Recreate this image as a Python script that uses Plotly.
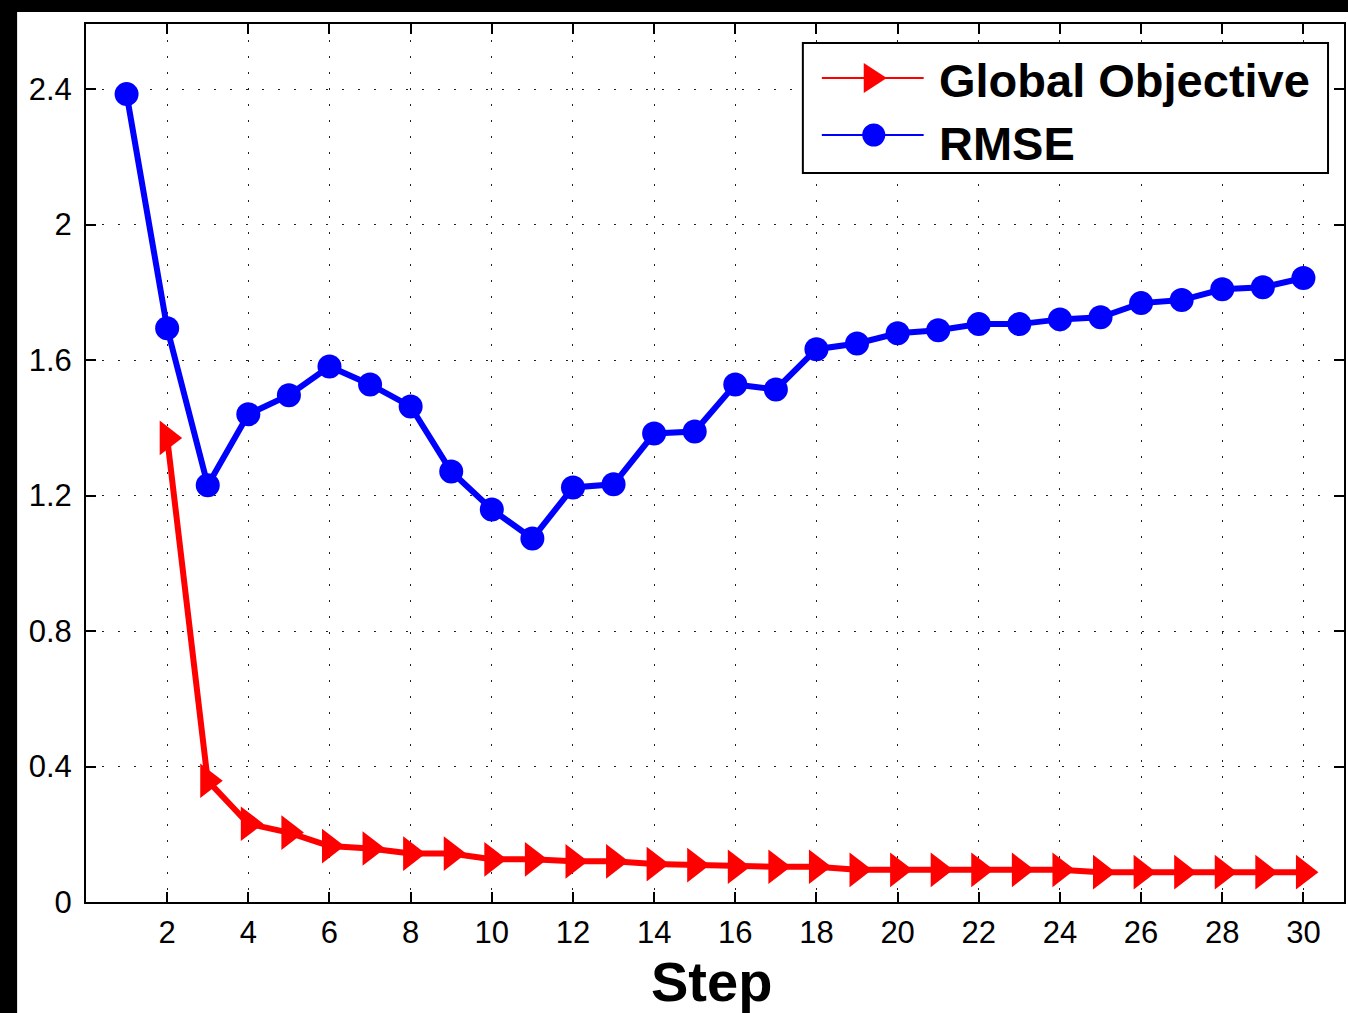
import plotly.graph_objects as go

# Iteration steps and the two tracked quantities
steps_rmse = list(range(1, 31))
rmse = [2.385, 1.694, 1.230, 1.440, 1.496, 1.581, 1.528, 1.463, 1.271, 1.159,
        1.073, 1.224, 1.233, 1.383, 1.389, 1.528, 1.513, 1.632, 1.649, 1.679,
        1.688, 1.706, 1.706, 1.720, 1.726, 1.768, 1.777, 1.809, 1.815, 1.842]

steps_obj = list(range(2, 31))
global_objective = [1.370, 0.358, 0.231, 0.205, 0.165, 0.158, 0.143, 0.143, 0.126, 0.126,
                    0.120, 0.120, 0.112, 0.109, 0.104, 0.104, 0.104, 0.095, 0.095, 0.095,
                    0.095, 0.095, 0.095, 0.088, 0.088, 0.088, 0.088, 0.088, 0.088]

x_ticks = list(range(2, 31, 2))
y_ticks = [0, 0.4, 0.8, 1.2, 1.6, 2.0, 2.4]
y_tick_text = ["0", "0.4", "0.8", "1.2", "1.6", "2", "2.4"]

FONT = "Liberation Sans, Arial, Helvetica, sans-serif"
W, H = 1348, 1013
L, R, T, B = 86, 2, 24, 111
PW, PH = W - L - R, H - T - B


def px_x(p):
    return (p - L) / PW


def px_y(p):
    return (H - B - p) / PH


fig = go.Figure()
fig.add_trace(go.Scatter(
    x=steps_obj, y=global_objective, mode="lines+markers", name="Global Objective",
    line=dict(color="#ff0000", width=6),
    marker=dict(symbol="triangle-right", size=30, color="#ff0000"),
    showlegend=False, cliponaxis=False,
))
fig.add_trace(go.Scatter(
    x=steps_rmse, y=rmse, mode="lines+markers", name="RMSE",
    line=dict(color="#0000ff", width=6),
    marker=dict(symbol="circle", size=24, color="#0000ff"),
    showlegend=False, cliponaxis=False,
))

axis_common = dict(
    showline=True, linecolor="black", linewidth=2, mirror="ticks",
    ticks="inside", ticklen=10, tickwidth=1.5, tickcolor="black",
    showgrid=True, gridcolor="#222222", gridwidth=1.3, griddash="2px,14px",
    zeroline=False, tickfont=dict(family=FONT, size=31, color="black"),
)
fig.update_xaxes(range=[0, 31], tickvals=x_ticks, ticklabelstandoff=2, **axis_common)
fig.update_yaxes(range=[0, 2.592], tickvals=y_ticks, ticktext=y_tick_text,
                 ticklabelstandoff=6, **axis_common)

shapes = [
    # dark frame strips along the top and left page edges
    dict(type="rect", xref="paper", yref="paper", x0=px_x(0), x1=px_x(W + 2),
         y0=px_y(12), y1=px_y(-2), fillcolor="black", line_width=0, layer="above"),
    dict(type="rect", xref="paper", yref="paper", x0=px_x(-2), x1=px_x(17),
         y0=px_y(H + 2), y1=px_y(-2), fillcolor="black", line_width=0, layer="above"),
    # legend box
    dict(type="rect", xref="paper", yref="paper", x0=px_x(804), x1=px_x(1330),
         y0=px_y(173), y1=px_y(43), fillcolor="white",
         line=dict(color="black", width=2), layer="above"),
    # legend sample lines
    dict(type="line", xref="paper", yref="paper", x0=px_x(823), x1=px_x(925),
         y0=px_y(78), y1=px_y(78), line=dict(color="#ff0000", width=2), layer="above"),
    dict(type="line", xref="paper", yref="paper", x0=px_x(823), x1=px_x(925),
         y0=px_y(135), y1=px_y(135), line=dict(color="#0000ff", width=2), layer="above"),
    # legend sample symbols
    dict(type="path", xref="paper", yref="paper", xsizemode="pixel", ysizemode="pixel",
         xanchor=px_x(876), yanchor=px_y(78), path="M -11 -15 L 12 0 L -11 15 Z",
         fillcolor="#ff0000", line_width=0, layer="above"),
    dict(type="circle", xref="paper", yref="paper", xsizemode="pixel", ysizemode="pixel",
         xanchor=px_x(875), yanchor=px_y(135), x0=-11.5, x1=11.5, y0=-11.5, y1=11.5,
         fillcolor="#0000ff", line_width=0, layer="above"),
]

annotations = [
    dict(text="<b>Global Objective</b>", xref="paper", yref="paper", x=px_x(938), y=px_y(80),
         xanchor="left", yanchor="middle", showarrow=False,
         font=dict(family=FONT, size=47, color="black")),
    dict(text="<b>RMSE</b>", xref="paper", yref="paper", x=px_x(938), y=px_y(143),
         xanchor="left", yanchor="middle", showarrow=False,
         font=dict(family=FONT, size=47, color="black")),
    dict(text="<b>Step</b>", xref="paper", yref="paper", x=px_x(712), y=px_y(982),
         xanchor="center", yanchor="middle", showarrow=False,
         font=dict(family=FONT, size=56, color="black")),
]

fig.update_layout(
    width=W, height=H,
    margin=dict(l=L, r=R, t=T, b=B, pad=0),
    paper_bgcolor="white", plot_bgcolor="white",
    shapes=shapes, annotations=annotations,
    showlegend=False,
)

fig.write_html("out.html", config={"displayModeBar": False})
